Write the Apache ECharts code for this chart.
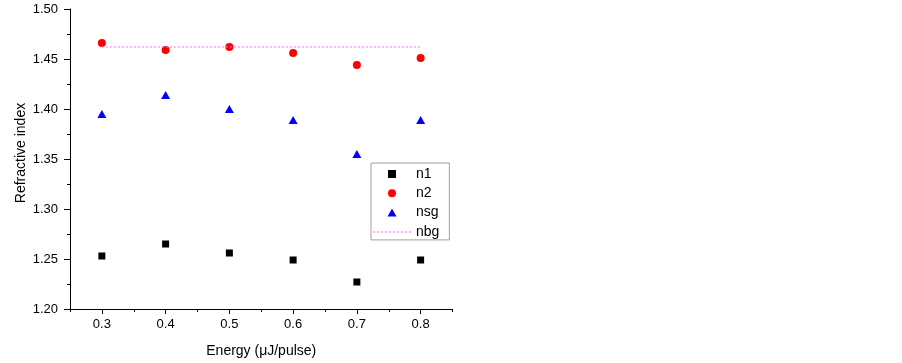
<!DOCTYPE html>
<html>
<head>
<meta charset="utf-8">
<script src="https://cdn.jsdelivr.net/npm/echarts@6/dist/echarts.min.js"></script>
<style>
html,body{margin:0;padding:0;background:#fff;}
#c{width:902px;height:363px;}
</style>
</head>
<body>
<div id="c"></div>
<script>
var energy = [0.3, 0.4, 0.5, 0.6, 0.7, 0.8];
var n1 = [1.253, 1.265, 1.256, 1.249, 1.227, 1.249];
var n2 = [1.466, 1.459, 1.462, 1.456, 1.444, 1.451];
var nsg = [1.395, 1.414, 1.400, 1.389, 1.355, 1.389];
var nbg = [1.462, 1.462, 1.462, 1.462, 1.462, 1.462];
var xTickLabels = ['0.3', '0.4', '0.5', '0.6', '0.7', '0.8'];
var xTickSteps = ['0.25', '0.30', '0.35', '0.40', '0.45', '0.50', '0.55', '0.60', '0.65', '0.70', '0.75', '0.80', '0.85'];

function pairs(ys) { return energy.map(function (x, i) { return [x, ys[i]]; }); }

var dottedIcon = 'path://M0,0h2v1h-2zM4,0h2v1h-2zM8,0h2v1h-2zM12,0h2v1h-2zM16,0h2v1h-2zM20,0h2v1h-2zM24,0h2v1h-2zM28,0h2v1h-2zM32,0h2v1h-2zM36,0h2v1h-2z';

var font = 'Liberation Sans, Arial, sans-serif';
var chart = echarts.init(document.getElementById('c'));
chart.setOption({
  animation: false,
  backgroundColor: '#fff',
  grid: { left: 70, top: 9, right: 449.5, bottom: 54, containLabel: false },
  legend: {
    orient: 'vertical',
    left: 371, top: 163,
    padding: [4, 10, 1, 2],
    itemWidth: 38, itemHeight: 8, itemGap: 5.3,
    symbolKeepAspect: true,
    borderColor: '#a0a0a0', borderWidth: 1,
    textStyle: { fontFamily: font, fontSize: 14, color: '#000' },
    data: [
      { name: 'n1', icon: 'path://M0,0H10V10H0Z' },
      { name: 'n2', icon: 'path://M5,0A5,5,0,1,1,5,10A5,5,0,1,1,5,0Z' },
      { name: 'nsg', icon: 'path://M5,0L10,9L0,9Z' },
      { name: 'nbg', icon: dottedIcon, itemStyle: { color: '#ff66ff' } }
    ]
  },
  xAxis: [{
    type: 'value', min: 0.25, max: 0.85, interval: 0.05,
    name: 'Energy (\u03bcJ/pulse)', nameLocation: 'middle', nameGap: 35,
    nameTextStyle: { fontFamily: font, fontSize: 14, color: '#000' },
    axisLine: { show: true, onZero: false, lineStyle: { color: '#000', width: 1 } },
    axisTick: { show: true, length: 3, lineStyle: { color: '#000' } },
    axisLabel: {
      margin: 9, fontFamily: font, fontSize: 13, color: '#000',
      formatter: function (v) {
        var s = String(Math.round(v * 100) / 100);
        return xTickLabels.indexOf(s) >= 0 ? s : '';
      }
    },
    splitLine: { show: false }
  }, {
    type: 'category', data: xTickSteps, boundaryGap: false, position: 'bottom',
    axisLine: { show: false },
    axisTick: { show: true, length: 5, lineStyle: { color: '#000' }, interval: function (i) { return i % 2 === 1; } },
    axisLabel: { show: false },
    splitLine: { show: false }
  }],
  yAxis: {
    type: 'value', min: 1.2, max: 1.5, interval: 0.05,
    name: 'Refractive index', nameLocation: 'middle', nameGap: 42,
    nameTextStyle: { fontFamily: font, fontSize: 14, color: '#000', padding: [0, 0, 0, 12] },
    axisLine: { show: true, lineStyle: { color: '#000', width: 1 } },
    axisTick: { show: true, length: 6, lineStyle: { color: '#000' } },
    minorTick: { show: true, splitNumber: 2, length: 3, lineStyle: { color: '#000' } },
    axisLabel: { margin: 12, fontFamily: font, fontSize: 13, color: '#000', formatter: function (v) { return v.toFixed(2); } },
    splitLine: { show: false }
  },
  series: [
    { name: 'n1', type: 'scatter', symbol: 'rect', symbolSize: 7, itemStyle: { color: '#000', opacity: 1 }, data: pairs(n1) },
    { name: 'n2', type: 'scatter', symbol: 'circle', symbolSize: 8, itemStyle: { color: '#ff0000', opacity: 1 }, data: pairs(n2) },
    { name: 'nsg', type: 'scatter', symbol: 'triangle', symbolSize: [9, 8], itemStyle: { color: '#0000ff', opacity: 1 }, data: pairs(nsg) },
    { name: 'nbg', type: 'line', symbol: 'none', showSymbol: false, lineStyle: { color: '#ff66ff', width: 1, type: [2, 2] }, itemStyle: { color: '#ff66ff' }, data: pairs(nbg) }
  ]
});
</script>
</body>
</html>
